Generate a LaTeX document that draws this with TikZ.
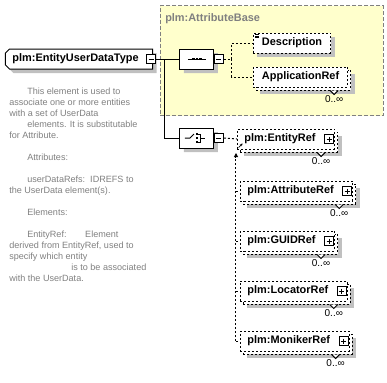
\documentclass[tikz,border=0pt]{standalone}
\usepackage{fontspec}
\setmainfont{Liberation Sans}
\usetikzlibrary{arrows.meta,shapes.misc}

\definecolor{shadowgray}{RGB}{192,192,192}
\definecolor{docgray}{RGB}{128,128,128}
\definecolor{basefill}{RGB}{255,255,204}

\begin{document}
\begin{tikzpicture}[x=0.75pt, y=-0.75pt,
  link/.style={line width=0.75pt},
  optlink/.style={line width=0.75pt, dash pattern=on 1.5pt off 1.5pt},
  sublink/.style={optlink, -{Triangle[length=3pt, width=3pt]}},
  elfont/.style={font=\bfseries\fontsize{8.2}{10}\selectfont},
  shadowed/.style={preaction={draw=none, fill=shadowgray, transform canvas={shift={(3pt,-3pt)}}}},
  stacked/.style={preaction={draw=none, fill=shadowgray, transform canvas={shift={(5.25pt,-5.25pt)}}},
                  preaction={draw, fill=white, line width=0.75pt, dash pattern=on 1.5pt off 1.5pt, transform canvas={shift={(2.25pt,-2.25pt)}}}},
  mainel/.style={elfont, draw, line width=0.75pt, fill=white, chamfered rectangle, chamfered rectangle corners={north west,south west}, chamfered rectangle xsep=1.5pt, chamfered rectangle ysep=1.5pt, minimum height=15pt, inner xsep=3.75pt, inner ysep=0pt, anchor=west, shadowed},
  el/.style={elfont, draw, line width=0.75pt, dash pattern=on 1.5pt off 1.5pt, fill=white, minimum height=15pt, inner ysep=0pt, anchor=west},
  leafel/.style={el, inner xsep=6.375pt},
  refel/.style={el, inner xsep=5.25pt},
  compositor/.style={draw, line width=0.75pt, fill=white, chamfered rectangle, chamfered rectangle xsep=3.75pt, chamfered rectangle ysep=5pt, minimum width=25.5pt, minimum height=15pt, inner sep=0pt, shadowed},
  minusbox/.style={draw, line width=0.75pt, fill=white, minimum size=6.75pt, inner sep=0pt,
                   path picture={\draw[line width=0.75pt] ([xshift=1.5pt]path picture bounding box.west) -- ([xshift=-1.5pt]path picture bounding box.east);}},
  plusbox/.style={draw, line width=0.75pt, fill=white, minimum size=6.75pt, inner sep=0pt,
                  path picture={\draw[line width=0.75pt] ([xshift=1.5pt]path picture bounding box.west) -- ([xshift=-1.5pt]path picture bounding box.east)
                                    ([yshift=-1.5pt]path picture bounding box.north) -- ([yshift=1.5pt]path picture bounding box.south);}},
  mult/.style={font=\fontsize{7.5}{9}\selectfont, inner sep=0pt},
  notch/.style={draw, fill=white, line width=0.75pt},
  doctext/.style={font=\fontsize{6.8}{8.25}\selectfont, text=docgray, align=left, inner sep=0pt},
  basebox/.style={draw=docgray, fill=basefill, line width=0.75pt, dash pattern=on 3pt off 1.5pt, inner sep=0pt, minimum width=167.25pt, minimum height=82.5pt, anchor=north west},
  basetitle/.style={elfont, text=docgray, inner sep=0pt, anchor=west}
]
\useasboundingbox (0,0) rectangle (387,383);

% ==================== extension base ====================
\node[basebox] (base) at (160,5) {};
\node[basetitle] (base_t) at (165,19) {plm:AttributeBase};

% ==================== complex type ====================
\node[mainel] (main) at (5,59) {plm:EntityUserDataType\hspace*{5.25pt}};
\node[minusbox] (main_m) at ([xshift=-1.5pt]main.east) {};

\node[doctext, anchor=north west] (doc) at (9,87.5) {%
\hspace*{13.5pt}This element is used to\\
associate one or more entities\\
with a set of UserData\\
\hspace*{13.5pt}elements. It is substitutable\\
for Attribute.\\[8.25pt]
\hspace*{13.5pt}Attributes:\\[8.25pt]
\hspace*{13.5pt}userDataRefs:\ \ IDREFS to\\
the UserData element(s).\\[8.25pt]
\hspace*{13.5pt}Elements:\\[8.25pt]
\hspace*{13.5pt}EntityRef:\hspace{14pt}Element\\
derived from EntityRef, used to\\
specify which entity\\
\hspace*{46.5pt}is to be associated\\
with the UserData.};

% ==================== sequence ====================
\node[compositor] (seq) at (197,59) {};
\node[minusbox] (seq_m) at ([xshift=3.375pt]seq.east) {};
\begin{scope}[shift={(seq.center)}]
  \draw[link] (-9,0) -- (9,0);
  \foreach \d in {-3.5,0,3.5} \fill (\d-1.3,-1.3) rectangle (\d+1.3,1.3);
\end{scope}

\draw[link] (main_m.east) -- (seq.west);

\node[leafel, shadowed] (descr) at (253,43) {Description};
\foreach \k in {0,1,2}
  \draw[line width=0.6pt] ([xshift=1.5pt, yshift={-1.5pt-\k*1.2pt}]descr.north west) -- ++(3pt,0);

\node[leafel, stacked] (appref) at (253,77) {ApplicationRef};
\draw[notch] ([xshift=-13.5pt, yshift=-2.25pt]appref.south east) -- ++(3pt,-3pt) -- ++(3pt,3pt);
\node[mult] (appref_n) at ([xshift=-10.5pt, yshift=-9pt]appref.south east) {0..∞};

\coordinate (seqbus) at (232,59);
\draw[optlink] (seq_m.east) -- (seqbus);
\draw[optlink] (seqbus) |- (descr.west);
\draw[optlink] (seqbus) |- (appref.west);

% ==================== choice ====================
\coordinate (fork) at (165,59);
\node[compositor] (choice) at (197,138) {};
\node[minusbox] (choice_m) at ([xshift=3.375pt]choice.east) {};
\begin{scope}[shift={(choice.center)}]
  \draw[link] (-12,0) -- (-7,0) -- (-3,-4);
  \foreach \d in {-4,0,4} \fill (-1.2,\d-1.2) rectangle (1.2,\d+1.2);
  \draw[link] (0,-4) -- (4,-4) -- (4,4) -- (0,4);
  \draw[link] (4,0) -- (8,0);
\end{scope}

\draw[link] (fork) |- (choice.west);

\node[refel, stacked] (entref) at (237,139) {plm:EntityRef\hspace*{9pt}};
\node[plusbox] (entref_p) at ([xshift=-4.5pt]entref.east) {};
\draw[-{Stealth[length=2pt, width=2pt]}, line width=0.6pt] ([xshift=1.2pt, yshift=1.5pt]entref.south west) -- ++(3pt,3pt);
\draw[notch] ([xshift=-13.5pt, yshift=-2.25pt]entref.south east) -- ++(3pt,-3pt) -- ++(3pt,3pt);
\node[mult] (entref_n) at ([xshift=-10.5pt, yshift=-9pt]entref.south east) {0..∞};

\draw[optlink] (choice_m.east) -- (entref.west);

\node[refel, stacked] (attref) at (240,191) {plm:AttributeRef\hspace*{9pt}};
\node[plusbox] (attref_p) at ([xshift=-4.5pt]attref.east) {};
\draw[notch] ([xshift=-13.5pt, yshift=-2.25pt]attref.south east) -- ++(3pt,-3pt) -- ++(3pt,3pt);
\node[mult] (attref_n) at ([xshift=-10.5pt, yshift=-9pt]attref.south east) {0..∞};

\node[refel, stacked] (guidref) at (240,241) {plm:GUIDRef\hspace*{9pt}};
\node[plusbox] (guidref_p) at ([xshift=-4.5pt]guidref.east) {};
\draw[notch] ([xshift=-13.5pt, yshift=-2.25pt]guidref.south east) -- ++(3pt,-3pt) -- ++(3pt,3pt);
\node[mult] (guidref_n) at ([xshift=-10.5pt, yshift=-9pt]guidref.south east) {0..∞};

\node[refel, stacked] (locref) at (240,291) {plm:LocatorRef\hspace*{9pt}};
\node[plusbox] (locref_p) at ([xshift=-4.5pt]locref.east) {};
\draw[notch] ([xshift=-13.5pt, yshift=-2.25pt]locref.south east) -- ++(3pt,-3pt) -- ++(3pt,3pt);
\node[mult] (locref_n) at ([xshift=-10.5pt, yshift=-9pt]locref.south east) {0..∞};

\node[refel, stacked] (monref) at (240,341) {plm:MonikerRef\hspace*{9pt}};
\node[plusbox] (monref_p) at ([xshift=-4.5pt]monref.east) {};
\draw[notch] ([xshift=-13.5pt, yshift=-2.25pt]monref.south east) -- ++(3pt,-3pt) -- ++(3pt,3pt);
\node[mult] (monref_n) at ([xshift=-10.5pt, yshift=-9pt]monref.south east) {0..∞};

% substitution group members
\coordinate (subbus) at (236,153);
\draw[sublink] (monref.west -| subbus) -- (subbus);
\draw[optlink] (attref.west -| subbus) -- (attref.west);
\draw[optlink] (guidref.west -| subbus) -- (guidref.west);
\draw[optlink] (locref.west -| subbus) -- (locref.west);
\draw[optlink] (monref.west -| subbus) -- (monref.west);

\end{tikzpicture}
\end{document}
